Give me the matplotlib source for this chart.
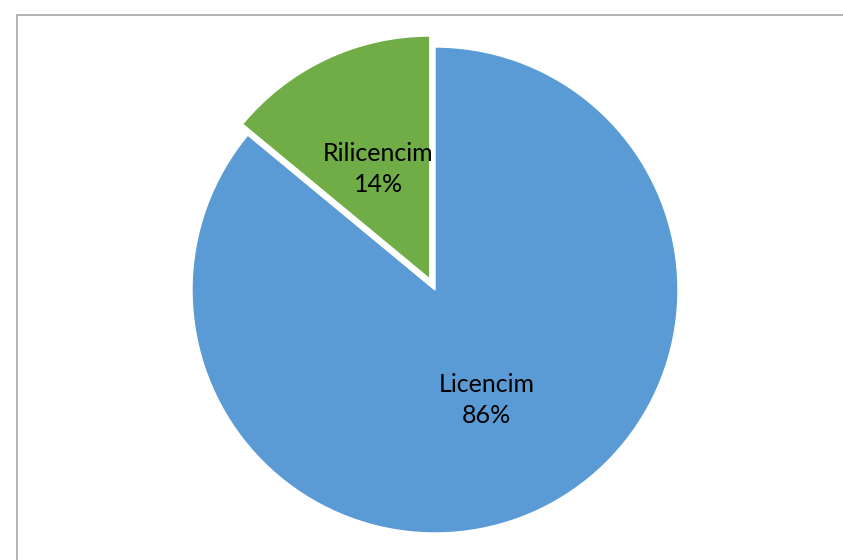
import matplotlib.pyplot as plt
from matplotlib.patches import Rectangle

# data
labels = ["Rilicencim", "Licencim"]
values = [14, 86]
colors = ["#70AD47", "#5B9BD5"]
explode = [0.05, 0.0]

W, H = 843, 560
fig = plt.figure(figsize=(W / 100, H / 100), dpi=100)

# chart frame (top-left corner visible, rest runs off the image)
fig.patches.append(Rectangle((17 / W, -0.1), 1.2, (H - 15) / H + 0.1,
                             transform=fig.transFigure, fill=False,
                             edgecolor="#A6A6A6", linewidth=1.2))

cx, cy, r = 435, 290, 243
half = 1.1 * r
ax = fig.add_axes([(cx - half) / W, (H - cy - half) / H, 2 * half / W, 2 * half / H])

pct_iter = iter(labels)


def fmt(p):
    return f"{next(pct_iter)}\n{p:.0f}%"


ax.pie(values, colors=colors, explode=explode, startangle=90, counterclock=True,
       autopct=fmt, pctdistance=0.5, radius=1.0,
       wedgeprops=dict(edgecolor="white", linewidth=1.0),
       textprops=dict(fontsize=18, family="Lato", color="black", linespacing=1.45))
ax.set_xlim(-1.1, 1.1)
ax.set_ylim(-1.1, 1.1)
ax.set_aspect("equal")
ax.axis("off")

fig.savefig("out.png", dpi=100)
